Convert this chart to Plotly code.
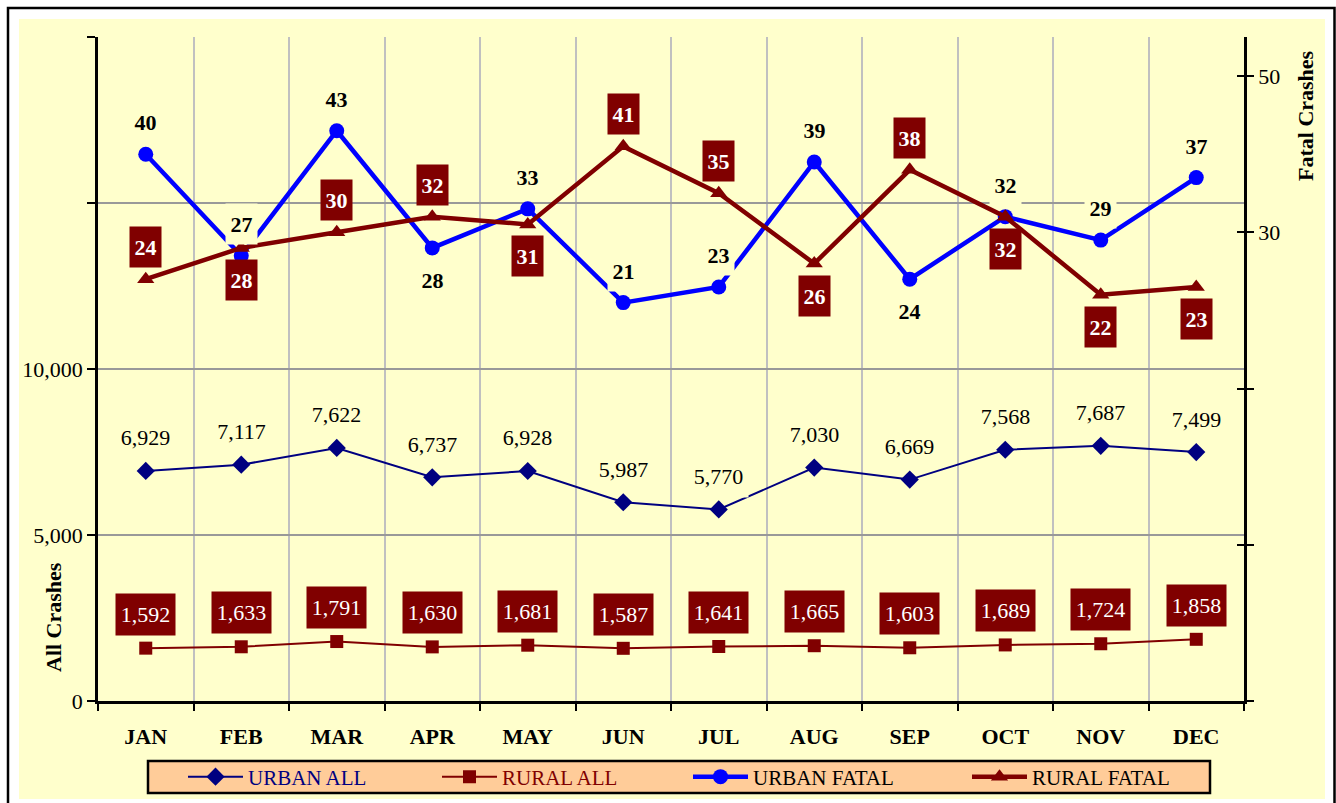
import plotly.graph_objects as go

MONTHS = ["JAN", "FEB", "MAR", "APR", "MAY", "JUN", "JUL", "AUG", "SEP", "OCT", "NOV", "DEC"]
URBAN_ALL = [6929, 7117, 7622, 6737, 6928, 5987, 5770, 7030, 6669, 7568, 7687, 7499]
RURAL_ALL = [1592, 1633, 1791, 1630, 1681, 1587, 1641, 1665, 1603, 1689, 1724, 1858]
URBAN_FATAL = [40, 27, 43, 28, 33, 21, 23, 39, 24, 32, 29, 37]
RURAL_FATAL = [24, 28, 30, 32, 31, 41, 35, 26, 38, 32, 22, 23]
# label side: 1 = above the point, -1 = below
URBAN_FATAL_SIDE = [1, 1, 1, -1, 1, 1, 1, 1, -1, 1, 1, 1]
RURAL_FATAL_SIDE = [1, -1, 1, 1, -1, 1, 1, -1, 1, -1, -1, -1]
LEFT_TICKS = [0, 5000, 10000, 15000, 20000]
LEFT_TICKTEXT = ["0", "5,000", "10,000", "", ""]
RIGHT_TICKS = [50, 30, 10, -10, -30]
RIGHT_TICKTEXT = ["50", "30", "", "", ""]

W, H = 1336, 803
L, R, T, B = 98, 1244, 37, 701
FONT = "Liberation Serif"
NAVY = "#000080"
DRED = "#800000"
BLUE = "#0000FF"
PEACH = "#FFCC99"
CREAM = "#FFFFCC"
FS = 22


def px(xp):
    return (xp - L) / (R - L)


def py(yp):
    return (B - yp) / (B - T)


fig = go.Figure()
fig.add_trace(go.Scatter(x=MONTHS, y=URBAN_ALL, mode="lines+markers",
                         name='<span style="color:#000080">URBAN ALL</span>', legend="legend",
                         line=dict(color=NAVY, width=2),
                         marker=dict(symbol="diamond", size=14, color=NAVY)))
fig.add_trace(go.Scatter(x=MONTHS, y=RURAL_ALL, mode="lines+markers",
                         name='<span style="color:#800000">RURAL ALL</span>', legend="legend2",
                         line=dict(color=DRED, width=2),
                         marker=dict(symbol="square", size=13, color=DRED)))
fig.add_trace(go.Scatter(x=MONTHS, y=URBAN_FATAL, mode="lines+markers", yaxis="y2",
                         name="URBAN FATAL", legend="legend3",
                         line=dict(color=BLUE, width=4.5),
                         marker=dict(symbol="circle", size=15, color=BLUE)))
fig.add_trace(go.Scatter(x=MONTHS, y=RURAL_FATAL, mode="lines+markers", yaxis="y2",
                         name="RURAL FATAL", legend="legend4",
                         line=dict(color=DRED, width=4.5),
                         marker=dict(symbol="triangle-up", size=15, color=DRED)))
# empty helper trace so the inner-tick copy of the right axis gets drawn
fig.add_trace(go.Scatter(x=[], y=[], yaxis="y3", showlegend=False, hoverinfo="skip"))

ann = []
for m, v in zip(MONTHS, URBAN_ALL):
    ann.append(dict(x=m, y=v, xref="x", yref="y", text=f"{v:,}", showarrow=False,
                    yshift=33, bgcolor=CREAM, width=57, height=39,
                    font=dict(family=FONT, size=FS, color="black")))
for m, v in zip(MONTHS, RURAL_ALL):
    ann.append(dict(x=m, y=v, xref="x", yref="y", text=f"{v:,}", showarrow=False,
                    yshift=34, bgcolor=DRED, width=57, height=39,
                    font=dict(family=FONT, size=FS, color="white")))
for m, v, s in zip(MONTHS, URBAN_FATAL, URBAN_FATAL_SIDE):
    ann.append(dict(x=m, y=v, xref="x", yref="y2", text=f"<b>{v}</b>", showarrow=False,
                    yshift=32 * s, bgcolor=CREAM, width=29, height=38,
                    font=dict(family=FONT, size=FS, color="black")))
for m, v, s in zip(MONTHS, RURAL_FATAL, RURAL_FATAL_SIDE):
    ann.append(dict(x=m, y=v, xref="x", yref="y2", text=f"<b>{v}</b>", showarrow=False,
                    yshift=32 * s, bgcolor=DRED, width=29, height=38,
                    font=dict(family=FONT, size=FS, color="white")))

ann.append(dict(xref="paper", yref="paper", x=px(53), y=py(617), xanchor="center", yanchor="middle",
                text="<b>All Crashes</b>", textangle=-90, showarrow=False,
                font=dict(family=FONT, size=FS, color="black")))
ann.append(dict(xref="paper", yref="paper", x=px(1305), y=py(116), xanchor="center", yanchor="middle",
                text="<b>Fatal Crashes</b>", textangle=-90, showarrow=False,
                font=dict(family=FONT, size=FS, color="black")))

shapes = [
    dict(type="rect", xref="paper", yref="paper", x0=px(19), x1=px(1325), y0=py(799), y1=py(19),
         fillcolor=CREAM, line=dict(width=0), layer="below"),
    dict(type="rect", xref="paper", yref="paper", x0=px(8), x1=px(1334.5), y0=py(830), y1=py(8),
         fillcolor="rgba(0,0,0,0)", line=dict(color="black", width=2.5), layer="above"),
    dict(type="rect", xref="paper", yref="paper", x0=px(148), x1=px(1210), y0=py(793), y1=py(761),
         fillcolor=PEACH, line=dict(color="black", width=2.5), layer="above"),
]

LEG_TEXT_X = [246, 500, 751, 1030]


def leg(xtext):
    return dict(orientation="h", x=px(xtext - 63), y=py(777), xanchor="left", yanchor="middle",
                bgcolor="rgba(0,0,0,0)", borderwidth=0,
                font=dict(family=FONT, size=21, color="black"), itemwidth=55)


fig.update_layout(
    width=W, height=H,
    margin=dict(l=L, r=W - R, t=T, b=H - B, pad=0, autoexpand=False),
    paper_bgcolor="white", plot_bgcolor=PEACH,
    font=dict(family=FONT, size=FS, color="black"),
    showlegend=True,
    legend=leg(LEG_TEXT_X[0]), legend2=leg(LEG_TEXT_X[1]),
    legend3=leg(LEG_TEXT_X[2]), legend4=leg(LEG_TEXT_X[3]),
    annotations=ann,
    shapes=shapes,
    xaxis=dict(type="category", categoryorder="array", categoryarray=MONTHS,
               range=[-0.5, 11.5], tickson="boundaries",
               showgrid=True, gridcolor="#C0C0C0", gridwidth=2,
               showline=True, linecolor="black", linewidth=2.5,
               ticks="outside", ticklen=7, tickwidth=2, tickcolor="black",
               ticklabelstandoff=14,
               tickfont=dict(family=FONT, size=FS, color="black", weight="bold")),
    yaxis=dict(range=[0, 20000], tickvals=LEFT_TICKS, ticktext=LEFT_TICKTEXT,
               showgrid=True, gridcolor="#999999", gridwidth=2, zeroline=False,
               showline=True, linecolor="black", linewidth=2.5,
               ticks="outside", ticklen=8, tickwidth=2, tickcolor="black",
               tickfont=dict(family=FONT, size=FS, color="black")),
    yaxis2=dict(range=[-30, 55], overlaying="y", side="right",
                tickvals=RIGHT_TICKS, ticktext=RIGHT_TICKTEXT,
                showgrid=False, zeroline=False,
                showline=True, linecolor="black", linewidth=2.5,
                ticks="outside", ticklen=7, tickwidth=2, tickcolor="black",
                tickfont=dict(family=FONT, size=FS, color="black")),
    yaxis3=dict(range=[-30, 55], overlaying="y", side="right", anchor="x",
                tickvals=RIGHT_TICKS, showticklabels=False,
                showgrid=False, zeroline=False, showline=False,
                ticks="inside", ticklen=7, tickwidth=2, tickcolor="black"),
)

fig.write_html("out.html", config={"displayModeBar": False},
               post_script="document.body.style.margin='0';document.body.style.overflow='hidden';")
